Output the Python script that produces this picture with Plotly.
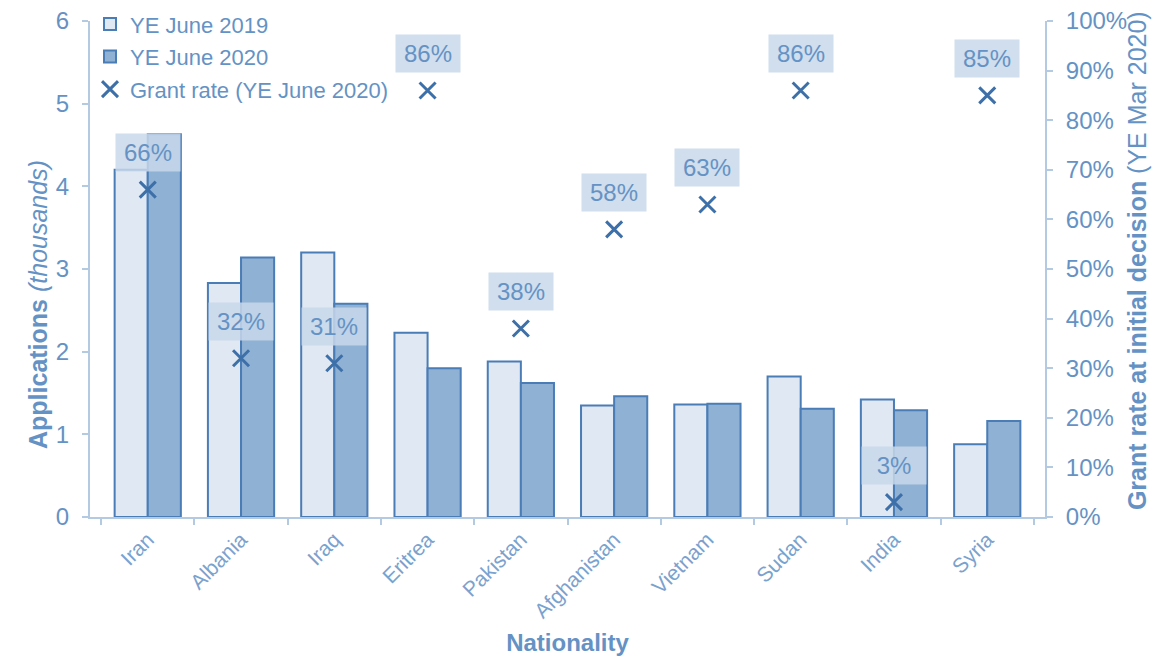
import plotly.graph_objects as go

categories = ["Iran", "Albania", "Iraq", "Eritrea", "Pakistan", "Afghanistan",
              "Vietnam", "Sudan", "India", "Syria"]
apps_2019 = [4.20, 2.83, 3.20, 2.23, 1.88, 1.35, 1.36, 1.70, 1.42, 0.88]
apps_2020 = [4.63, 3.14, 2.58, 1.80, 1.62, 1.46, 1.37, 1.31, 1.29, 1.16]
grant_rate = [0.66, 0.32, 0.31, 0.86, 0.38, 0.58, 0.63, 0.86, 0.03, 0.85]

TXT = "#6592c4"
AX = "#b3cae2"
LINE = "#4a7cb6"
MARK = "#3d6fa8"
FONT = "Liberation Sans, Arial, sans-serif"

fig = go.Figure()
fig.add_trace(go.Bar(
    x=categories, y=apps_2019, name="YE June 2019", legendgroup="a",
    marker=dict(color="#e0e9f3", line=dict(color=LINE, width=2)),
))
fig.add_trace(go.Bar(
    x=categories, y=apps_2020, name="YE June 2020", legendgroup="b",
    marker=dict(color="#8fb1d4", line=dict(color=LINE, width=2)),
))
fig.add_trace(go.Scatter(
    x=categories, y=grant_rate, name="Grant rate (YE June 2020)", legendgroup="c",
    yaxis="y2", mode="markers",
    marker=dict(symbol="x-thin", size=16, color=MARK, line=dict(color=MARK, width=3)),
))

for c, r in zip(categories, grant_rate):
    fig.add_annotation(
        x=c, y=r, yref="y2", text=f"{round(r*100)}%", showarrow=False,
        yshift=37, bgcolor="rgba(200,216,234,0.85)", borderpad=5, width=54,
        font=dict(family=FONT, size=24, color=TXT),
    )

# axis titles placed as annotations for exact positioning
fig.add_annotation(
    xref="paper", yref="paper", x=-0.0712, y=0.4274, textangle=-90,
    text="<b>Applications</b> <i>(thousands)</i>", showarrow=False,
    font=dict(family=FONT, size=25, color=TXT),
)
fig.add_annotation(
    xref="paper", yref="paper", x=1.1131, y=0.516, textangle=-90,
    text="<b>Grant rate at initial decision</b> (YE Mar 2020)", showarrow=False,
    font=dict(family=FONT, size=25, color=TXT),
)

fig.update_layout(
    width=1170, height=656,
    margin=dict(l=82, r=133, t=13, b=147, autoexpand=False),
    paper_bgcolor="white", plot_bgcolor="white",
    barmode="group", bargap=0.29, bargroupgap=0,
    font=dict(family=FONT, color=TXT, size=22),
    showlegend=True,
    legend=dict(x=0.0, y=1.036, xanchor="left", yanchor="top",
                bgcolor="rgba(0,0,0,0)", font=dict(size=22, color=TXT),
                tracegroupgap=1, itemwidth=30),
    xaxis=dict(
        showline=True, linecolor=AX, linewidth=2,
        ticks="outside", tickson="boundaries", ticklen=6, tickcolor=AX, tickwidth=2,
        tickangle=-45, tickfont=dict(size=21, color="#7aa2ce"),
        title=dict(text="<b>Nationality</b>", font=dict(size=24, color=TXT), standoff=13),
        showgrid=False, automargin=False,
    ),
    yaxis=dict(
        range=[0, 6], dtick=1, showline=True, linecolor=AX, linewidth=2,
        ticks="outside", ticklen=6, tickcolor=AX, tickwidth=2, ticklabelstandoff=8,
        ticklabeloverflow="allow",
        tickfont=dict(size=24, color=TXT), showgrid=False, zeroline=False,
        automargin=False,
    ),
    yaxis2=dict(
        range=[0, 1], dtick=0.1, tickformat=".0%", overlaying="y", side="right",
        showline=True, linecolor=AX, linewidth=2,
        ticks="outside", ticklen=6, tickcolor=AX, tickwidth=2, ticklabelstandoff=8,
        ticklabeloverflow="allow",
        tickfont=dict(size=24, color=TXT), showgrid=False, zeroline=False,
        automargin=False,
    ),
)

fig.write_html("out.html")
